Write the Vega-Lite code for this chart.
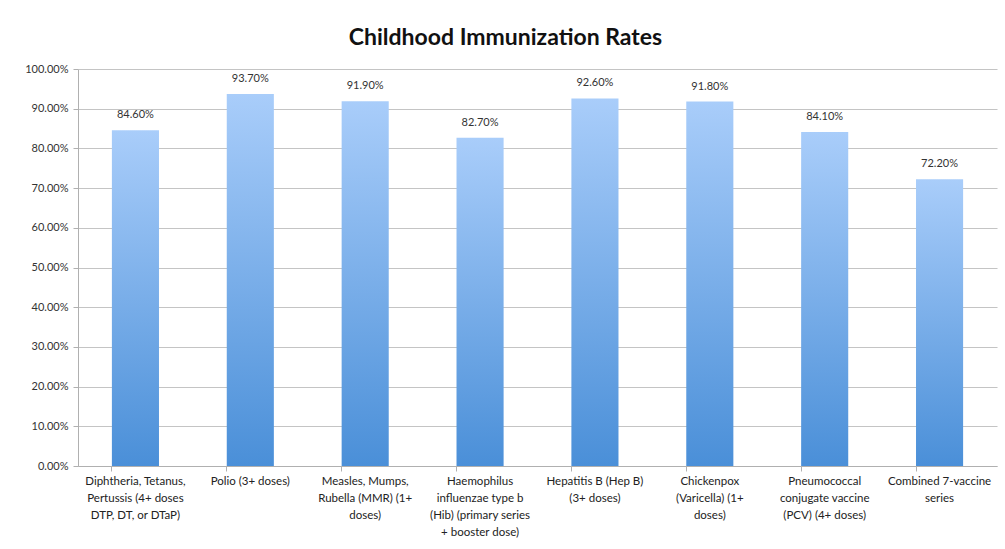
{
  "$schema": "https://vega.github.io/schema/vega-lite/v6.json",
  "autosize": {"type": "none"},
  "width": 919,
  "height": 397,
  "padding": {"left": 78, "top": 69, "right": 8, "bottom": 83},
  "background": "white",
  "title": {
    "text": "Childhood Immunization Rates",
    "font": "Lato",
    "fontSize": 23,
    "fontWeight": "bold",
    "color": "#111111",
    "anchor": "middle",
    "dx": -32,
    "offset": 13
  },
  "data": {
    "values": [
      {"vaccine": "Diphtheria, Tetanus,\nPertussis (4+ doses\nDTP, DT, or DTaP)", "rate": 0.846},
      {"vaccine": "Polio (3+ doses)", "rate": 0.937},
      {"vaccine": "Measles, Mumps,\nRubella (MMR) (1+\ndoses)", "rate": 0.919},
      {"vaccine": "Haemophilus\ninfluenzae type b\n(Hib) (primary series\n+ booster dose)", "rate": 0.827},
      {"vaccine": "Hepatitis B (Hep B)\n(3+ doses)", "rate": 0.926},
      {"vaccine": "Chickenpox\n(Varicella) (1+\ndoses)", "rate": 0.918},
      {"vaccine": "Pneumococcal\nconjugate vaccine\n(PCV) (4+ doses)", "rate": 0.841},
      {"vaccine": "Combined 7-vaccine\nseries", "rate": 0.722}
    ]
  },
  "encoding": {
    "x": {
      "field": "vaccine",
      "type": "nominal",
      "sort": null,
      "scale": {"paddingInner": 0.59, "paddingOuter": 0.295},
      "axis": {
        "title": null,
        "labelAngle": 0,
        "labelExpr": "split(datum.label, '\\n')",
        "labelFont": "Lato",
        "labelFontSize": 11.5,
        "labelColor": "#222222",
        "labelLineHeight": 17,
        "labelPadding": 4,
        "labelLimit": 0,
        "bandPosition": 0,
        "ticks": true,
        "tickSize": 5,
        "tickColor": "#b0b0b0",
        "domainColor": "#b0b0b0",
        "grid": false
      }
    },
    "y": {
      "field": "rate",
      "type": "quantitative",
      "scale": {"domain": [0, 1], "nice": false},
      "axis": {
        "title": null,
        "format": ".2%",
        "values": [0, 0.1, 0.2, 0.3, 0.4, 0.5, 0.6, 0.7, 0.8, 0.9, 1.0],
        "labelOverlap": false,
        "labelFont": "Lato",
        "labelFontSize": 11,
        "labelColor": "#333333",
        "labelPadding": 5,
        "tickSize": 5,
        "tickColor": "#b0b0b0",
        "domainColor": "#b0b0b0",
        "gridColor": "#c4c4c4",
        "gridWidth": 1.2
      }
    }
  },
  "layer": [
    {
      "mark": {
        "type": "bar",
        "color": {
          "gradient": "linear",
          "x1": 0, "y1": 0, "x2": 0, "y2": 1,
          "stops": [
            {"offset": 0, "color": "#a9cdfa"},
            {"offset": 1, "color": "#4a8fd8"}
          ]
        }
      }
    },
    {
      "mark": {
        "type": "text",
        "dy": -10,
        "baseline": "bottom",
        "font": "Lato",
        "fontSize": 11,
        "color": "#333333"
      },
      "encoding": {
        "text": {"field": "rate", "type": "quantitative", "format": ".2%"}
      }
    }
  ],
  "config": {
    "view": {"stroke": null}
  }
}
